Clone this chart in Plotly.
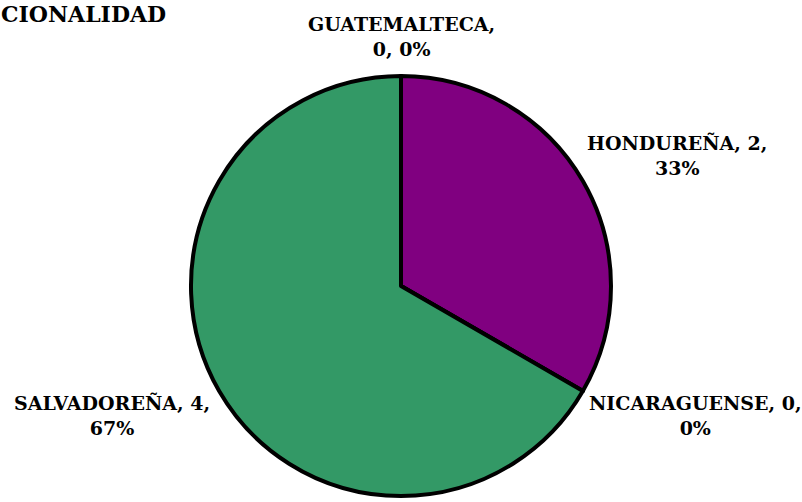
import plotly.graph_objects as go

# Data
labels = ["GUATEMALTECA", "HONDUREÑA", "NICARAGUENSE", "SALVADOREÑA"]
values = [0, 2, 0, 4]
colors = ["#4F81BD", "#800080", "#FFFF99", "#339966"]
title_text = "CIONALIDAD"

total = sum(values)
pcts = [round(v / total * 100) for v in values]

# label texts (line break placement mirrors the reference)
break_after_label = [True, False, False, False]
texts = []
for lab, v, p, b in zip(labels, values, pcts, break_after_label):
    if b:
        texts.append(f"{lab},<br>{v}, {p}%")
    else:
        texts.append(f"{lab}, {v},<br>{p}%")

W, H = 802, 502
cx, cy, r = 401, 286, 210

fig = go.Figure()
fig.add_trace(go.Pie(
    labels=labels, values=values, sort=False, direction="clockwise", rotation=0,
    marker=dict(colors=colors, line=dict(color="black", width=4)),
    textinfo="none", hoverinfo="label+value+percent", showlegend=False,
    domain=dict(x=[(cx - r) / W, (cx + r) / W], y=[(H - cy - r) / H, (H - cy + r) / H]),
))

font = dict(family="DejaVu Serif", size=19, color="black")
label_pos = [(401, 36), (677, 156), (695, 415), (112, 415)]
for t, (x, y) in zip(texts, label_pos):
    fig.add_annotation(x=x / W, y=1 - y / H, xref="paper", yref="paper", text=f"<b>{t}</b>",
                       showarrow=False, font=font, align="center", xanchor="center", yanchor="middle")

fig.add_annotation(x=0, y=1, xref="paper", yref="paper", text=f"<b>{title_text}</b>",
                   showarrow=False, font=dict(family="DejaVu Serif", size=22, color="black"),
                   xanchor="left", yanchor="top", borderpad=0)

fig.update_layout(width=W, height=H, margin=dict(l=0, r=0, t=0, b=0),
                  paper_bgcolor="white", plot_bgcolor="white")
fig.write_html("out.html", config={"displayModeBar": False},
               post_script="document.body.style.margin='0';")
